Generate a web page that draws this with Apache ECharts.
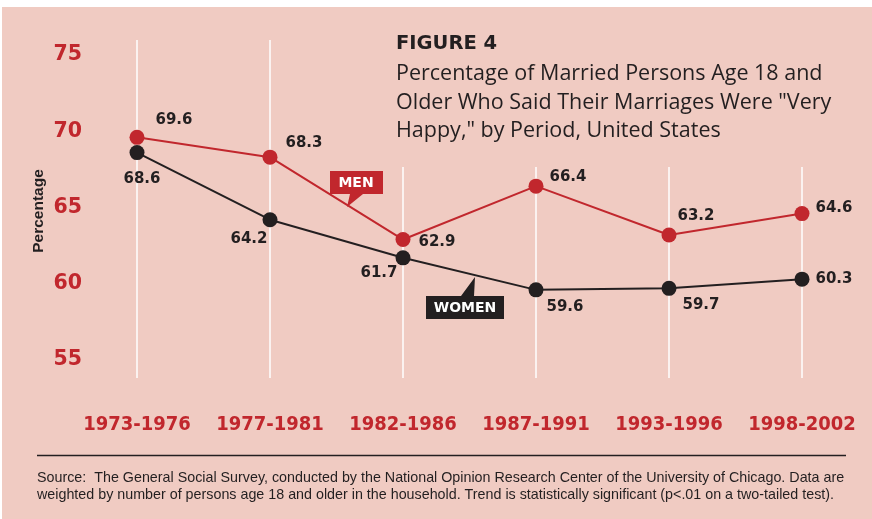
<!DOCTYPE html>
<html>
<head>
<meta charset="utf-8">
<title>Figure 4</title>
<script src="https://cdn.jsdelivr.net/npm/echarts@6/dist/echarts.min.js"></script>
<style>
  html, body { margin: 0; padding: 0; background: #fff; }
  /* pink card with a thin white strip on top/left like the scan */
  #chart {
    width: 872px; height: 519px;
    background: linear-gradient(#f0cbc2, #f0cbc2) no-repeat 2px 7px / 870px 512px, #fff;
  }
</style>
</head>
<body>
<div id="chart"></div>
<script>
const periods = ['1973-1976', '1977-1981', '1982-1986', '1987-1991', '1993-1996', '1998-2002']
const men = [69.6, 68.3, 62.9, 66.4, 63.2, 64.6]
const women = [68.6, 64.2, 61.7, 59.6, 59.7, 60.3]

// where each value label sits relative to its dot
const menLabelOffset = [[37, -17], [34, -14], [34, 3], [32, -9], [27, -19], [32, -5]]
const womenLabelOffset = [[5, 27], [-21, 19], [-24, 15], [29, 17], [32, 17], [32, 0]]

const RED = '#c1272d'
const DARK = '#231f20'
const PINK = '#f0cbc2'

const chart = echarts.init(document.getElementById('chart'))

const withLabels = (values, offsets) => values.map((v, i) => ({
  value: v,
  label: {offset: offsets[i]}
}))

const seriesLabel = {
  show: true,
  position: 'inside',
  align: 'center',
  verticalAlign: 'middle',
  color: DARK,
  fontFamily: 'DejaVu Sans',
  fontWeight: 'bold',
  fontSize: 15,
  formatter: p => p.value.toFixed(1)
}

const option = {
  animation: false,
  grid: [
    {left: 137, right: 70, top: 55, bottom: 159},   // data area
    {left: 137, right: 70, top: 40, bottom: 141}    // taller area just for the white period lines
  ],
  xAxis: [
    {
      type: 'category', gridIndex: 0, data: periods, boundaryGap: false,
      axisLine: {show: false}, axisTick: {show: false}, splitLine: {show: false},
      axisLabel: {
        interval: 0, margin: 55, color: RED, fontFamily: 'DejaVu Sans Condensed, Liberation Sans',
        fontWeight: 'bold', fontSize: 20
      }
    },
    {
      type: 'category', gridIndex: 1, data: periods, boundaryGap: false,
      axisLine: {show: false}, axisTick: {show: false}, axisLabel: {show: false},
      splitLine: {show: true, interval: 0, lineStyle: {color: '#ffffff', width: 1.5}}
    }
  ],
  yAxis: [
    {
      type: 'value', gridIndex: 0, min: 55, max: 75, interval: 5,
      axisLine: {show: false}, axisTick: {show: false}, splitLine: {show: false},
      axisLabel: {
        margin: 55, color: RED, fontFamily: 'DejaVu Sans', fontWeight: 'bold', fontSize: 20.5,
        padding: [0, 0, 6, 0]
      }
    },
    {type: 'value', gridIndex: 1, show: false, min: 0, max: 1}
  ],
  series: [
    {
      name: 'Women', type: 'line', xAxisIndex: 0, yAxisIndex: 0,
      data: withLabels(women, womenLabelOffset),
      symbol: 'circle', symbolSize: 15,
      itemStyle: {color: DARK}, lineStyle: {color: DARK, width: 2},
      label: seriesLabel, z: 3
    },
    {
      name: 'Men', type: 'line', xAxisIndex: 0, yAxisIndex: 0,
      data: withLabels(men, menLabelOffset),
      symbol: 'circle', symbolSize: 15,
      itemStyle: {color: RED}, lineStyle: {color: RED, width: 2},
      label: seriesLabel, z: 4
    }
  ],
  graphic: [
    // title block covers the tops of the right-hand period lines
    {type: 'rect', z: 50, shape: {x: 388, y: 28, width: 484, height: 139}, style: {fill: PINK}},
    {
      type: 'text', z: 51, x: 396, y: 44,
      style: {text: 'FIGURE 4', fill: DARK, font: 'bold 19.5px "DejaVu Sans"', verticalAlign: 'middle'}
    },
    {
      type: 'text', z: 51, x: 396, y: 60,
      style: {
        text: 'Percentage of Married Persons Age 18 and\nOlder Who Said Their Marriages Were "Very\nHappy," by Period, United States',
        fill: DARK, font: '21.5px "Open Sans"', lineHeight: 28.5, verticalAlign: 'top'
      }
    },
    // axis title
    {
      type: 'text', z: 51, x: 39, y: 211, rotation: Math.PI / 2,
      style: {text: 'Percentage', fill: DARK, font: 'bold 15.5px "Liberation Sans"', align: 'center', verticalAlign: 'middle'}
    },
    // MEN callout
    {
      type: 'polygon', z: 52,
      shape: {points: [[330, 171], [383, 171], [383, 194], [363, 194], [347, 207], [350, 194], [330, 194]]},
      style: {fill: RED}
    },
    {
      type: 'text', z: 53, x: 356, y: 183,
      style: {text: 'MEN', fill: '#fff', font: 'bold 14px "DejaVu Sans"', align: 'center', verticalAlign: 'middle'}
    },
    // WOMEN callout
    {
      type: 'polygon', z: 52,
      shape: {points: [[426, 296], [461, 296], [475, 277], [474, 296], [504, 296], [504, 319], [426, 319]]},
      style: {fill: DARK}
    },
    {
      type: 'text', z: 53, x: 465, y: 308,
      style: {text: 'WOMEN', fill: '#fff', font: 'bold 14px "DejaVu Sans"', align: 'center', verticalAlign: 'middle'}
    },
    // rule and source note
    {
      type: 'line', z: 51, shape: {x1: 37, y1: 455.5, x2: 846, y2: 455.5},
      style: {stroke: DARK, lineWidth: 1.5}
    },
    {
      type: 'text', z: 51, x: 37, y: 470,
      style: {
        text: 'Source:  The General Social Survey, conducted by the National Opinion Research Center of the University of Chicago. Data are\nweighted by number of persons age 18 and older in the household. Trend is statistically significant (p<.01 on a two-tailed test).',
        fill: DARK, font: '14.3px "Liberation Sans"', lineHeight: 16.5, verticalAlign: 'top'
      }
    }
  ]
}

chart.setOption(option)
</script>
</body>
</html>
